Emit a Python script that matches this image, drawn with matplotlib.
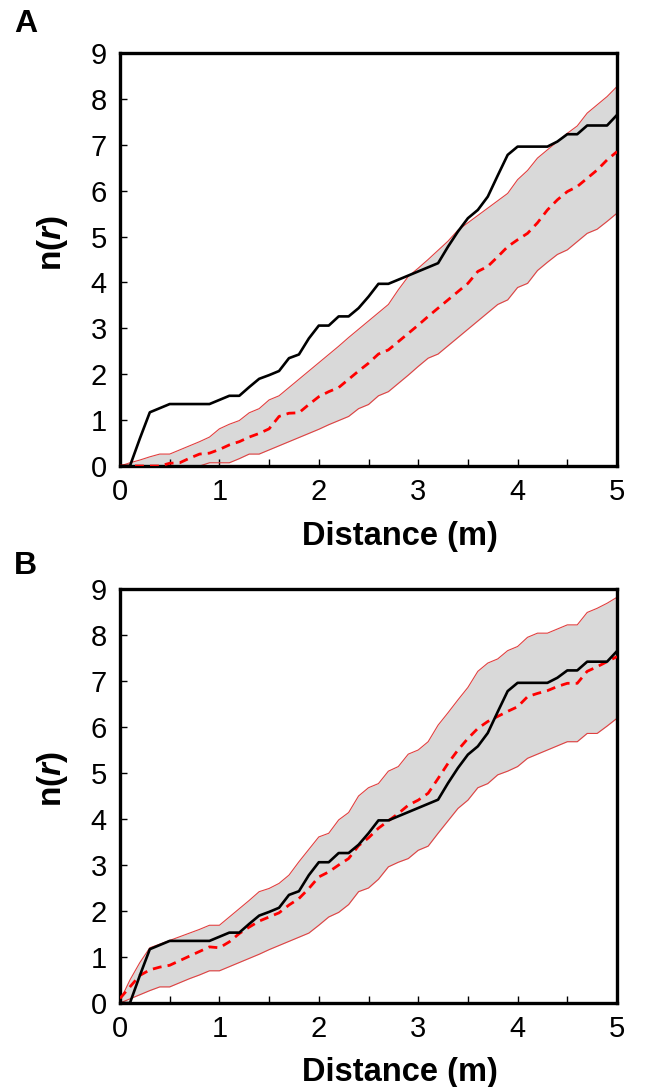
import matplotlib

matplotlib.use("Agg")
import matplotlib.pyplot as plt
import numpy as np

plt.rcParams["font.family"] = ["Liberation Sans", "DejaVu Sans"]
plt.rcParams["mathtext.fontset"] = "custom"
plt.rcParams["mathtext.bf"] = "Liberation Sans:bold"
plt.rcParams["mathtext.bfit"] = "Liberation Sans:bold:italic"

# distance grid (m), step 0.1
distance = np.round(np.arange(0, 5.01, 0.1), 1)

# observed n(r) (same in both panels)
observed = [0, 0, 0.6, 1.17, 1.26, 1.35, 1.35, 1.35, 1.35, 1.35,
            1.44, 1.53, 1.53, 1.72, 1.9, 1.98, 2.07, 2.35, 2.43, 2.78,
            3.06, 3.06, 3.26, 3.26, 3.44, 3.69, 3.97, 3.97, 4.06, 4.15,
            4.24, 4.33, 4.42, 4.78, 5.11, 5.40, 5.58, 5.87, 6.33, 6.78,
            6.96, 6.96, 6.96, 6.96, 7.07, 7.23, 7.23, 7.42, 7.42, 7.42,
            7.65]

# panel A: null model envelope and mean
a_upper = [0, 0.07, 0.13, 0.2, 0.26, 0.26, 0.35, 0.44, 0.53, 0.63,
           0.81, 0.91, 0.99, 1.16, 1.25, 1.44, 1.53, 1.71, 1.89, 2.07,
           2.25, 2.43, 2.61, 2.80, 2.98, 3.16, 3.34, 3.52, 3.84, 4.13,
           4.31, 4.50, 4.70, 4.90, 5.14, 5.30, 5.46, 5.62, 5.78, 5.94,
           6.24, 6.44, 6.71, 6.89, 7.07, 7.25, 7.41, 7.69, 7.87, 8.05,
           8.27]
a_lower = [0, 0, 0, 0, 0, 0, 0, 0, 0, 0.07,
           0.07, 0.07, 0.16, 0.26, 0.26, 0.35, 0.44, 0.53, 0.62, 0.71,
           0.80, 0.90, 0.99, 1.08, 1.25, 1.34, 1.53, 1.62, 1.80, 1.98,
           2.17, 2.35, 2.44, 2.62, 2.80, 2.98, 3.16, 3.34, 3.52, 3.62,
           3.89, 3.98, 4.26, 4.44, 4.61, 4.71, 4.89, 5.07, 5.16, 5.33,
           5.51]
a_mean = [0, 0, 0, 0, 0, 0.06, 0.07, 0.17, 0.26, 0.28,
          0.36, 0.46, 0.53, 0.63, 0.71, 0.81, 1.08, 1.15, 1.16, 1.34,
          1.51, 1.62, 1.71, 1.89, 2.07, 2.24, 2.44, 2.53, 2.71, 2.89,
          3.07, 3.26, 3.44, 3.62, 3.80, 3.98, 4.24, 4.35, 4.56, 4.78,
          4.93, 5.07, 5.30, 5.58, 5.80, 5.98, 6.09, 6.27, 6.45, 6.67,
          6.85]

# panel B: null model envelope and mean
b_upper = [0.05, 0.5, 0.88, 1.2, 1.28, 1.36, 1.44, 1.52, 1.6, 1.69,
           1.69, 1.87, 2.05, 2.23, 2.42, 2.49, 2.60, 2.78, 3.07, 3.34,
           3.61, 3.69, 3.98, 4.14, 4.50, 4.68, 4.77, 5.04, 5.14, 5.41,
           5.50, 5.68, 6.04, 6.31, 6.59, 6.86, 7.21, 7.39, 7.48, 7.66,
           7.75, 7.95, 8.04, 8.04, 8.13, 8.22, 8.22, 8.49, 8.58, 8.69,
           8.82]
b_lower = [0, 0.09, 0.18, 0.27, 0.35, 0.35, 0.44, 0.53, 0.61, 0.70,
           0.70, 0.79, 0.88, 0.97, 1.06, 1.16, 1.25, 1.34, 1.43, 1.52,
           1.69, 1.87, 1.97, 2.14, 2.42, 2.50, 2.69, 2.96, 3.06, 3.14,
           3.32, 3.41, 3.69, 3.96, 4.23, 4.41, 4.68, 4.77, 4.96, 5.04,
           5.14, 5.32, 5.41, 5.50, 5.59, 5.68, 5.68, 5.86, 5.86, 6.02,
           6.19]
b_mean = [0.1, 0.35, 0.6, 0.72, 0.78, 0.82, 0.92, 1.02, 1.12, 1.22,
          1.20, 1.33, 1.51, 1.65, 1.78, 1.87, 1.96, 2.13, 2.27, 2.49,
          2.74, 2.85, 3.00, 3.14, 3.42, 3.59, 3.80, 3.96, 4.12, 4.30,
          4.41, 4.56, 4.88, 5.21, 5.50, 5.75, 5.97, 6.12, 6.23, 6.34,
          6.44, 6.66, 6.73, 6.79, 6.88, 6.95, 6.95, 7.21, 7.31, 7.42,
          7.53]

panels = [("A", a_lower, a_upper, a_mean), ("B", b_lower, b_upper, b_mean)]

W, H = 647, 1087
fig = plt.figure(figsize=(W / 100, H / 100), dpi=100)

# axes boxes in pixels: left, top, right, bottom; panel letter centre y; xlabel y
boxes = [(120, 53, 617, 466), (120, 589, 617, 1003)]
letter_y = [24, 566]
xlabel_y = [-0.132, -0.131]

for i, ((letter, lo, up, mean), (l, t, r, b)) in enumerate(zip(panels, boxes)):
    ax = fig.add_axes([l / W, 1 - b / H, (r - l) / W, (b - t) / H])
    ax.fill_between(distance, lo, up, color="#d9d9d9", lw=0, zorder=1)
    ax.plot(distance, up, color="#e04040", lw=0.8, zorder=2)
    ax.plot(distance, lo, color="#e04040", lw=0.8, zorder=2)
    ax.plot(distance, mean, color="red", lw=2.0, ls=(0, (3.2, 2.2)), zorder=3)
    ax.plot(distance, observed, color="black", lw=1.9, zorder=4)

    ax.set_xlim(0, 5)
    ax.set_ylim(0, 9)
    ax.set_xticks(range(6))
    ax.set_xticks(np.arange(0.5, 5, 1.0), minor=True)
    ax.set_yticks(range(10))
    ax.tick_params(axis="both", which="both", direction="in", labelsize=21,
                   top=False, right=False, width=1.0)
    ax.tick_params(axis="y", which="major", length=5, pad=9.5)
    ax.tick_params(axis="x", which="major", length=5, pad=8.5)
    ax.tick_params(axis="x", which="minor", length=5)
    for s in ax.spines.values():
        s.set_linewidth(2.4)

    ax.set_xlabel("Distance (m)", fontsize=23.5, fontweight="bold")
    ax.xaxis.set_label_coords(0.563, xlabel_y[i])
    ax.set_ylabel(r"$\mathbf{n(}\mathbfit{r}\mathbf{)}$", fontsize=24)
    ax.yaxis.set_label_coords(-0.10, 0.54)

    fig.text(14 / W, 1 - letter_y[i] / H, letter, fontsize=23, fontweight="bold",
             ha="left", va="center")

fig.savefig("out.png", dpi=100)
